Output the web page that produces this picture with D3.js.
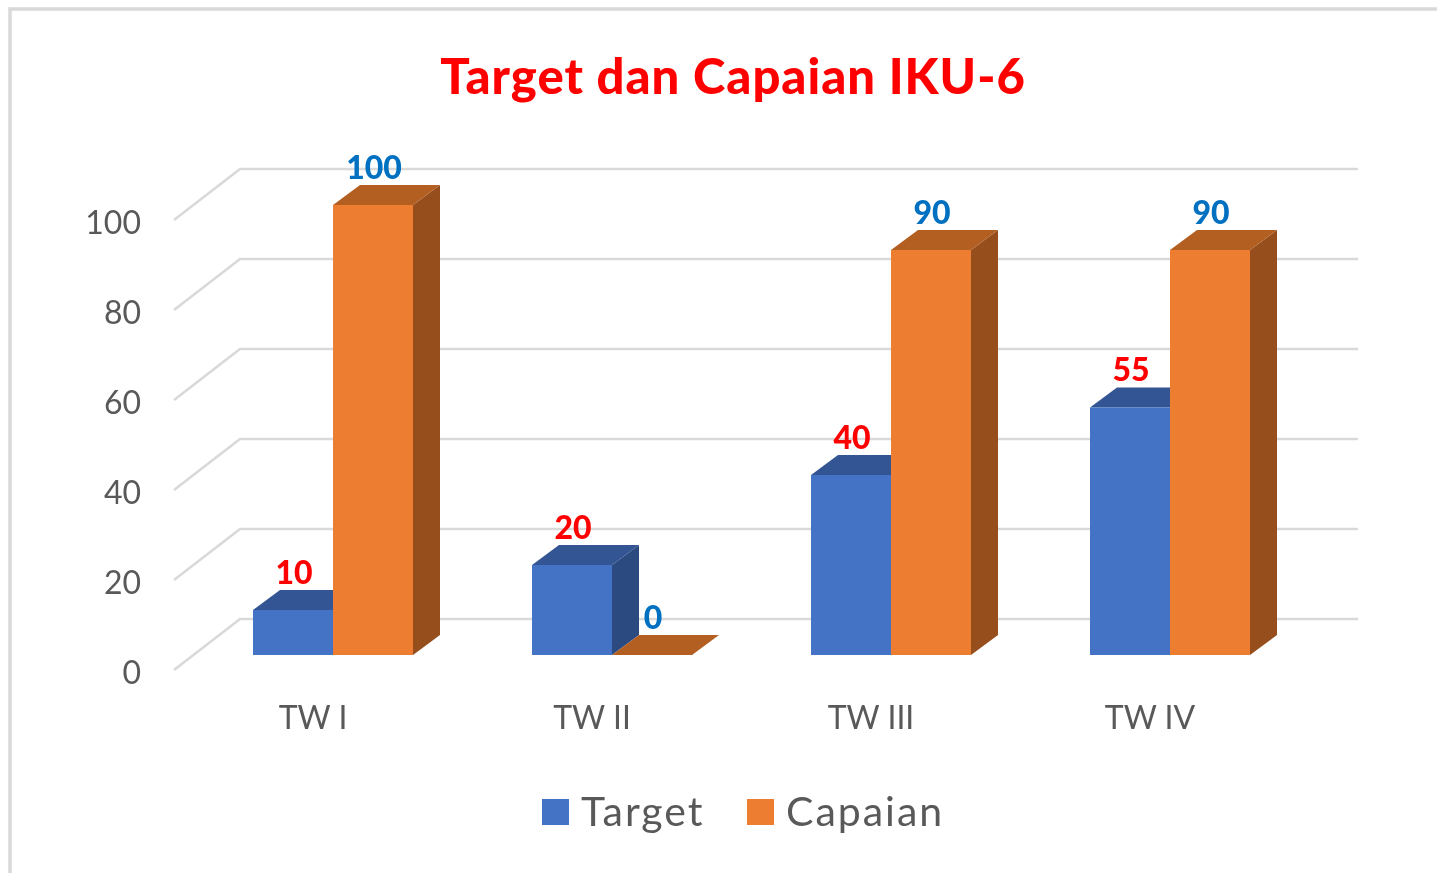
<!DOCTYPE html>
<html>
<head>
<meta charset="utf-8">
<script src="https://cdn.jsdelivr.net/npm/d3@7"></script>
<style>
html,body{margin:0;padding:0;background:#fff;overflow:hidden}
svg{display:block;font-family:Lato,"Noto Sans",sans-serif;filter:blur(0.6px)}
</style>
</head>
<body>
<svg id="chart" width="1437" height="873"></svg>
<script>
const categories = ["TW I", "TW II", "TW III", "TW IV"];
const seriesNames = ["Target", "Capaian"];
const targetValues = [10, 20, 40, 55];
const capaianValues = [100, 0, 90, 90];
const valueTicks = [0, 20, 40, 60, 80, 100];
const titleText = "Target dan Capaian IKU-6";

const colors = {
  Target:  {front: "#4472C4", top: "#335593", side: "#2B4A80", label: "#FF0000"},
  Capaian: {front: "#ED7D31", top: "#B45F22", side: "#964F1C", label: "#0070C0"}
};
const gridColor = "#D9D9D9", textColor = "#595959";

const svg = d3.select("#chart");

// frame
svg.append("path")
  .attr("d", "M10 873V9H1437")
  .attr("fill", "none").attr("stroke", "#D9D9D9").attr("stroke-width", 3.5);

// title
svg.append("text").attr("x", 733).attr("y", 94).attr("text-anchor", "middle")
  .attr("font-size", 49).attr("font-weight", 900).attr("letter-spacing", 1)
  .attr("fill", "#FF0000").text(titleText);

// scales
const y = d3.scaleLinear().domain([0, 100]).range([655, 205]);
const x0 = d3.scaleBand().domain(categories).range([193.5, 1309.5]).paddingInner(119 / 279).paddingOuter(59.5 / 279);
const x1 = d3.scaleBand().domain(seriesNames).range([0, x0.bandwidth()]);

// 3D offsets
const wallDx = 66, wallDy = -51, frontOffset = 15, barDx = 27, barDy = -20;
const gridLeft = 174, gridRight = 1292;

// gridlines: left wall + back wall
const grid = svg.append("g").attr("fill", "none").attr("stroke", gridColor).attr("stroke-width", 2.6);
grid.selectAll("path").data(valueTicks).join("path")
  .attr("d", d => {
    const fy = y(d) + frontOffset;
    return `M${gridLeft} ${fy}L${gridLeft + wallDx} ${fy + wallDy}H${gridRight + wallDx}`;
  });

// value axis
const yAxisScale = y.copy().range(y.range().map(v => v + frontOffset + 3.5));
const yAxis = svg.append("g").attr("transform", "translate(141,0)")
  .call(d3.axisLeft(yAxisScale).tickValues(valueTicks).tickSize(0).tickPadding(0));
yAxis.select(".domain").remove();
yAxis.selectAll("text").attr("font-size", 32).attr("font-family", "Lato,'Noto Sans',sans-serif").attr("fill", textColor);

// category axis
const xAxis = svg.append("g").attr("transform", "translate(-20,706)")
  .call(d3.axisBottom(x0).tickSize(0).tickPadding(0));
xAxis.select(".domain").remove();
xAxis.selectAll("text").attr("font-size", 32).attr("font-family", "Lato,'Noto Sans',sans-serif").attr("fill", textColor);

// bars
const rows = categories.map((c, i) => ({c, Target: targetValues[i], Capaian: capaianValues[i]}));
const groups = svg.append("g").selectAll("g").data(rows).join("g")
  .attr("transform", d => `translate(${x0(d.c)},0)`);
const bars = groups.selectAll("g").data(d => seriesNames.map(s => ({s, v: d[s]}))).join("g");

const w = x1.bandwidth();
bars.append("path").attr("fill", d => colors[d.s].side)
  .attr("d", d => {
    const l = x1(d.s) + w;
    return `M${l} ${y(d.v)}l${barDx} ${barDy}V${y(0) + barDy}l${-barDx} ${-barDy}Z`;
  });
bars.append("path").attr("fill", d => colors[d.s].top)
  .attr("d", d => {
    const l = x1(d.s);
    return `M${l} ${y(d.v)}l${barDx} ${barDy}h${w}l${-barDx} ${-barDy}Z`;
  });
bars.append("rect").attr("fill", d => colors[d.s].front)
  .attr("x", d => x1(d.s)).attr("y", d => y(d.v))
  .attr("width", w).attr("height", d => y(0) - y(d.v));

// data labels (on top of all bars)
const labelLayer = svg.append("g");
rows.forEach(r => seriesNames.forEach(s => {
  labelLayer.append("text")
    .attr("x", x0(r.c) + x1(s) + w / 2 + 1)
    .attr("y", y(r[s]) - 26.5)
    .attr("text-anchor", "middle").attr("font-size", 32).attr("font-weight", 900)
    .attr("fill", colors[s].label).text(r[s]);
}));

// legend
const legendX = {Target: 542, Capaian: 747};
const legend = svg.append("g").selectAll("g").data(seriesNames).join("g")
  .attr("transform", d => `translate(${legendX[d]},799)`);
legend.append("rect").attr("width", 27).attr("height", 26).attr("fill", d => colors[d].front);
legend.append("text").attr("x", 39).attr("y", 27).attr("font-size", 41).attr("letter-spacing", 2).attr("fill", textColor).text(d => d);
</script>
</body>
</html>
